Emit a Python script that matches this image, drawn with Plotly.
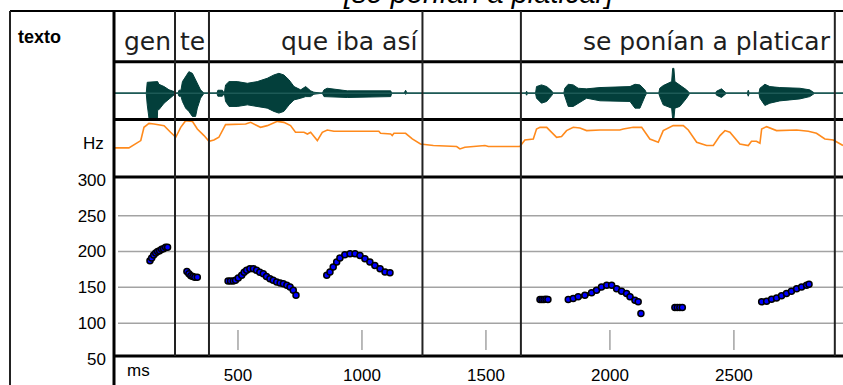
import plotly.graph_objects as go

# ---------------- data ----------------
# word segmentation (ms)
words = ["gen", "te", "que iba así", "", "se ponían a platicar"]
word_end_ms = [246, 383, 1244, 1641, 2907]
title_text = "[se ponían a platicar]"

# waveform envelope (arbitrary amplitude units, + up / - down)
wave_ms = [0, 130, 134, 141, 175, 176, 181, 202, 222, 242, 250,
           258, 262, 270, 276, 289, 302, 316, 329, 336, 349, 363,
           415, 419, 437, 445, 450, 464, 497, 538, 578, 618, 645, 665, 685, 706, 726, 753, 773, 793, 806,
           840, 847, 860, 941, 1116, 1120, 1170, 1176, 1182,
           1660, 1664, 1668, 1700, 1704, 1724, 1745, 1765, 1771,
           1814, 1818, 1832, 1852, 1872, 1906, 1960, 2081, 2101, 2121, 2141, 2148,
           2197, 2201, 2215, 2249, 2253, 2258, 2262, 2282, 2309, 2322,
           2426, 2430, 2450, 2470, 2554, 2558, 2562,
           2601, 2605, 2625, 2645, 2685, 2766, 2806, 2826, 2940]
wave_top = [0, 0, 11, 11, 11.7, 11.7, 9, 6.7, 3.4, 1.7, 0,
            0, 3, 3, 11.7, 16.7, 21.7, 20, 13.3, 8.4, 3.4, 0,
            0, 3, 3, 0, 8.4, 11.7, 11.7, 10, 11.7, 15, 18.4, 20, 18.4, 13.4, 6.7, 3.4, 6.7, 2.4, 1,
            0, 3.4, 5, 2.4, 2.4, 0, 0, 3, 0,
            0, 2, 0, 0, 6.7, 8.4, 6.7, 2.4, 0,
            0, 5, 9, 8.4, 5, 4.4, 5.7, 6.7, 9, 8.4, 3.4, 0,
            0, 5, 7.7, 11.7, 25, 25, 11.7, 8.4, 3.4, 0,
            0, 2, 4.4, 0, 0, 3, 0,
            0, 5, 9, 6.7, 5.7, 5, 3.4, 0, 0]
wave_bot = [0, 0, -11.6, -25, -25, -16.6, -16.6, -10, -5, -1.7, 0,
            0, -3, -3, -8.3, -15, -18.3, -23.3, -23.3, -15, -5, 0,
            0, -3, -3, 0, -8.3, -13.3, -13.3, -11.7, -13.3, -15, -18.3, -20, -18.3, -11.7, -6.7, -5, -3.4, -3.4, -1,
            0, -3.4, -3.4, -4.3, -3.4, 0, 0, -1, 0,
            0, -2, 0, 0, -5, -10, -8.3, -2.4, 0,
            0, -3.4, -13.3, -13.3, -10, -5, -7.6, -8.3, -15, -15, -3.4, 0,
            0, -3.4, -11.7, -15, -26, -26, -15, -13.3, -5, 0,
            0, -2, -4.3, 0, 0, -3, 0,
            0, -5, -12.3, -10, -7.7, -5.7, -3.4, 0, 0]

# orange contour (arbitrary units)
contour_ms = [0, 0, 60, 74, 94, 108, 121, 141, 161, 202, 228, 249, 269, 289, 316, 336, 363, 383, 403, 423,
              450, 531, 551, 591, 618, 659, 685, 712, 732, 766, 780, 793, 820, 840, 860, 887, 1068, 1075,
              1116, 1122, 1129, 1176, 1203, 1236, 1288, 1382, 1395, 1415, 1496, 1510, 1637, 1657, 1691,
              1704, 1718, 1745, 1785, 1805, 1825, 1852, 1879, 1906, 1960, 2040, 2054, 2094, 2128, 2161,
              2195, 2215, 2255, 2296, 2316, 2350, 2390, 2417, 2444, 2464, 2484, 2524, 2558, 2571, 2591,
              2605, 2612, 2632, 2672, 2746, 2753, 2800, 2833, 2867, 2901, 2940]
contour_val = [0.7, 29.3, 29.3, 31.7, 35, 36.7, 50, 54, 53.3, 51.7, 45, 40, 50, 56.7, 56, 48.3, 41.7, 36, 37.3, 40,
               52.7, 53.3, 55, 50, 51.7, 56, 55, 51.7, 45, 45, 43.3, 45, 36.7, 45, 47.3, 46, 46, 44,
               43.3, 41.7, 44, 44, 38.3, 33.3, 31.7, 30.7, 28.3, 30, 31.7, 30.7, 30.7, 37.3, 38.3,
               48.3, 50, 50, 40, 40.7, 46.7, 50, 49.3, 46.7, 47.3, 47.3, 48.3, 50, 50, 38.3,
               35, 46.7, 51.7, 51.7, 47.3, 35, 31.7, 31.7, 41.7, 46.7, 45, 33.3, 31.7, 36, 36,
               34, 48.3, 50.7, 46.7, 46.7, 47.3, 46, 44, 38.3, 37.3, 31.7]

# F0 (Hz); None separates voiced stretches
f0_ms = [145, 152, 160, 168, 176, 184, 192, 200, 208, 216, None,
         294, 302, 310, 318, 326, 336, None,
         460, 470, 481, 490, 501, 515, 525, 535, 548, 562, 575, 588, 602, 615, 629, 642, 656, 670, 683, 697, 710, 723, 734, None,
         858, 871, 884, 898, 911, 931, 952, 972, 992, 1012, 1032, 1052, 1073, 1093, 1113, None,
         1718, 1726, 1734, 1742, 1750, None,
         1832, 1852, 1872, 1899, 1926, 1946, 1966, 1987, 2007, 2027, 2047, 2067, 2081, 2101, 2114, None,
         2125, None,
         2262, 2272, 2282, 2292, None,
         2612, 2632, 2652, 2672, 2692, 2712, 2732, 2753, 2773, 2793, 2803]
f0_hz = [187, 191, 195, 198, 200, 201, 203, 204, 206, 206, None,
         172, 169, 166, 165, 164, 164, None,
         159, 159, 159, 160, 163, 167, 171, 174, 176, 176, 174, 171, 169, 165, 162, 160, 157.5, 156, 155, 153, 150.6, 146, 139, None,
         166.7, 171.4, 178.3, 185.3, 190.8, 195.4, 196.8, 196.8, 194.4, 189.8, 185.3, 180.6, 176, 171.4, 170.4, None,
         133, 133, 133, 133.5, 133, None,
         133, 134.4, 136.7, 138.9, 142.3, 145.9, 150.6, 152.8, 152.8, 148.2, 144.5, 141.3, 136.7, 132, 129.8, None,
         113.5, None,
         122, 122, 122, 122, None,
         129.8, 130.6, 133.4, 135.3, 138.1, 141.3, 144.5, 148.2, 150.6, 152.8, 154.2]

hz_ticks = [50, 100, 150, 200, 250, 300]
hz_grid = [100, 150, 200, 250]
ms_ticks = [500, 1000, 1500, 2000, 2500]

# ---------------- layout helpers ----------------
W, H = 843, 385
ML, MT, MB = 114, 11, 24
PW = W - ML
PH = H - MT - MB
BOTTOM = H - MB


def py(y):
    return (BOTTOM - y) / PH


def px(x):
    return (x - ML) / PW


WAVE = "#033f3b"
ORANGE = "#ff8a1c"
GRID = "#a3a3a3"

fig = go.Figure()

# waveform
fig.add_trace(go.Scatter(x=wave_ms + wave_ms[::-1], y=wave_top + wave_bot[::-1],
                         fill="toself", fillcolor=WAVE, mode="lines",
                         line=dict(color=WAVE, width=1), yaxis="y2", hoverinfo="skip"))
fig.add_trace(go.Scatter(x=[0, 2940], y=[0, 0], mode="lines",
                         line=dict(color="#1d5a56", width=1.5), yaxis="y2", hoverinfo="skip"))

# orange contour
fig.add_trace(go.Scatter(x=contour_ms, y=contour_val, mode="lines",
                         line=dict(color=ORANGE, width=1.6), yaxis="y3"))

# time tick marks inside F0 panel
tx, ty = [], []
for t in ms_ticks:
    tx += [t, t, None]
    ty += [62.6, 90.4, None]
fig.add_trace(go.Scatter(x=tx, y=ty, mode="lines", line=dict(color=GRID, width=1.5),
                         yaxis="y4", hoverinfo="skip"))

# F0 points
fig.add_trace(go.Scatter(x=f0_ms, y=f0_hz, mode="lines+markers",
                         line=dict(color="black", width=4),
                         marker=dict(size=6, color="#0000ff", line=dict(color="black", width=1.5)),
                         yaxis="y4", connectgaps=False))

shapes = []
# grid lines
for g in hz_grid:
    shapes.append(dict(type="line", xref="paper", yref="y4", x0=px(118), x1=1, y0=g, y1=g,
                       line=dict(color=GRID, width=1.5), layer="below"))
# frame
shapes.append(dict(type="line", xref="paper", yref="paper", x0=px(10), x1=1, y0=py(11), y1=py(11),
                   line=dict(color="black", width=2)))
shapes.append(dict(type="line", xref="paper", yref="paper", x0=px(10), x1=px(10), y0=py(11), y1=py(390),
                   line=dict(color="#222", width=2)))
shapes.append(dict(type="line", xref="paper", yref="paper", x0=0, x1=0, y0=py(11), y1=py(390),
                   line=dict(color="black", width=3)))
for yy in [62, 120, 178, 358]:
    shapes.append(dict(type="line", xref="paper", yref="paper", x0=0, x1=1, y0=py(yy), y1=py(yy),
                       line=dict(color="black", width=3)))
for b in word_end_ms:
    shapes.append(dict(type="line", xref="x", yref="paper", x0=b, x1=b, y0=py(11), y1=py(358),
                       line=dict(color="#222", width=2)))

annotations = []
# word labels
for w, e in zip(words, word_end_ms):
    if w:
        annotations.append(dict(text=w, x=e, xref="x", y=py(42), yref="paper", xanchor="right",
                                yanchor="middle", xshift=-2, showarrow=False,
                                font=dict(family="DejaVu Sans", size=25, color="#1e1e1e")))
annotations.append(dict(text="<b>texto</b>", x=px(16), xref="paper", y=py(37), yref="paper",
                        xanchor="left", yanchor="middle", showarrow=False,
                        font=dict(family="Liberation Sans", size=18, color="black")))
annotations.append(dict(text="Hz", x=px(106), xref="paper", y=py(144), yref="paper",
                        xanchor="right", yanchor="middle", showarrow=False,
                        font=dict(family="Liberation Sans", size=17, color="black")))
annotations.append(dict(text="ms", x=px(125), xref="paper", y=py(373), yref="paper",
                        xanchor="left", yanchor="middle", showarrow=False,
                        font=dict(family="Liberation Sans", size=17, color="black")))
annotations.append(dict(text="<i>" + title_text + "</i>", x=px(478), xref="paper", y=py(11), yref="paper",
                        xanchor="center", yanchor="bottom", showarrow=False,
                        font=dict(family="Liberation Sans", size=29, color="black")))

fig.update_layout(
    width=W, height=H, margin=dict(l=ML, r=0, t=MT, b=MB, pad=0),
    paper_bgcolor="white", plot_bgcolor="white", showlegend=False,
    xaxis=dict(domain=[0, 1], range=[0, 2940], anchor="y4", tickvals=ms_ticks,
               ticktext=[str(t) for t in ms_ticks], showgrid=False, zeroline=False,
               showline=False, ticks="", ticklabelstandoff=4,
               tickfont=dict(family="Liberation Sans", size=17, color="black")),
    yaxis2=dict(domain=[py(120), py(62)], range=[-26.3, 31.7], visible=False),
    yaxis3=dict(domain=[py(178), py(120)], range=[0, 58], visible=False),
    yaxis4=dict(domain=[0, py(178)], range=[50, 303.9], tickvals=hz_ticks,
                ticktext=[str(t) for t in hz_ticks], showgrid=False, zeroline=False,
                showline=False, ticks="", ticklabelstandoff=7,
                tickfont=dict(family="Liberation Sans", size=17, color="black")),
    shapes=shapes, annotations=annotations,
)

fig.write_html("out.html", config={"displayModeBar": False},
               post_script="document.body.style.margin='0';document.body.style.overflow='hidden';")
